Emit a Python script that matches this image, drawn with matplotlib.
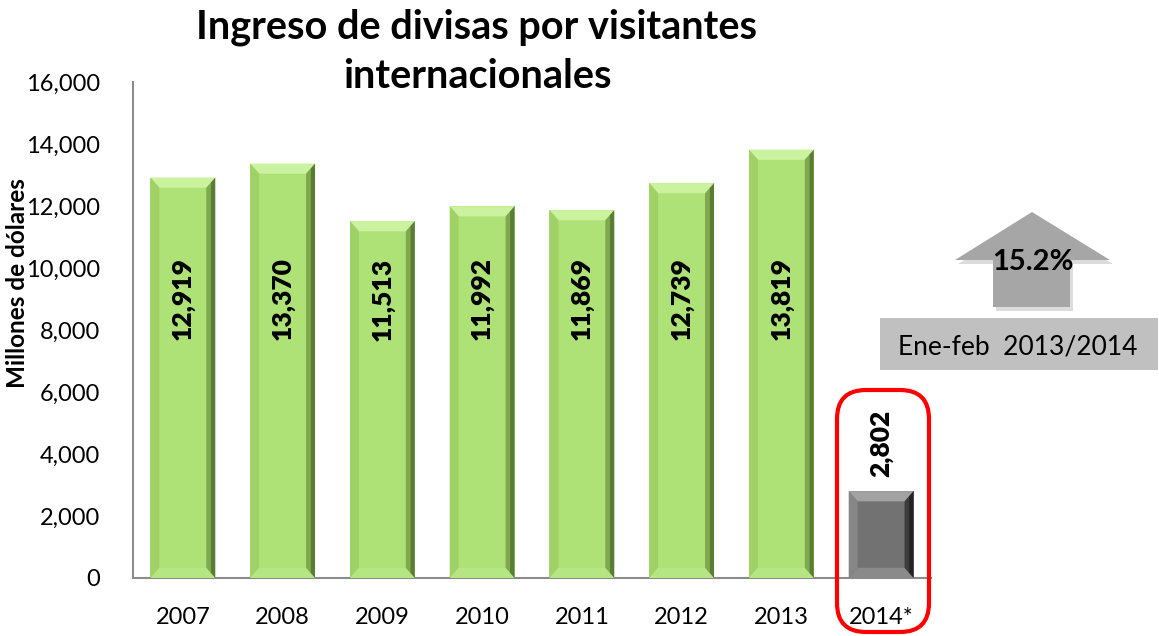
import matplotlib.pyplot as plt
from matplotlib.patches import Polygon, FancyBboxPatch
from matplotlib.ticker import FuncFormatter

plt.rcParams['font.family'] = ['Lato', 'DejaVu Sans']

years = ['2007', '2008', '2009', '2010', '2011', '2012', '2013', '2014*']
values = [12919, 13370, 11513, 11992, 11869, 12739, 13819, 2802]
labels = ['12,919', '13,370', '11,513', '11,992', '11,869', '12,739', '13,819', '2,802']
change = '15.2%'
period = 'Ene-feb  2013/2014'

W, H = 1159, 636
fig = plt.figure(figsize=(W / 100, H / 100), dpi=100)
ax = fig.add_axes([133 / W, 1 - 578 / H, 798 / W, 496 / H])

# face, top bevel, left bevel, right bevel (inner, outer), bottom bevel
green = ['#aee277', '#cbf29e', '#9fd166', '#7fa84f', '#5a7d35', '#b6e684']
grey = ['#727272', '#a2a2a2', '#868686', '#3c3c3c', '#232323', '#8a8a8a']

bars = ax.bar(range(len(years)), values, width=0.65, color=green[0], zorder=2)
bars[-1].set_facecolor(grey[0])

# bevel edges on every bar
dx, dy = 0.09, 330
for i, b in enumerate(bars):
    c = grey if i == len(bars) - 1 else green
    x0, x1 = b.get_x(), b.get_x() + b.get_width()
    y0, y1 = 0, b.get_height()
    xm, ym0, ym1 = x1 - dx / 2, y0 + dy / 2, y1 - dy / 2
    polys = [
        ([(x0, y1), (x1, y1), (x1 - dx, y1 - dy), (x0 + dx, y1 - dy)], c[1]),
        ([(x0, y1), (x0 + dx, y1 - dy), (x0 + dx, y0 + dy), (x0, y0)], c[2]),
        ([(x0, y0), (x1, y0), (x1 - dx, y0 + dy), (x0 + dx, y0 + dy)], c[5]),
        ([(xm, ym1), (xm, ym0), (x1 - dx, y0 + dy), (x1 - dx, y1 - dy)], c[3]),
        ([(x1, y1), (x1, y0), (xm, ym0), (xm, ym1)], c[4]),
    ]
    for pts, col in polys:
        ax.add_patch(Polygon(pts, closed=True, facecolor=col, edgecolor='none', zorder=3))

# value labels
for i, (v, lab) in enumerate(zip(values, labels)):
    y = 9000 if i < len(values) - 1 else v + 1550
    ax.text(i, y, lab, rotation=90, ha='center', va='center',
            fontsize=19, fontweight='heavy', color='black', zorder=4)

ax.set_xlim(-0.5, len(years) - 0.5)
ax.set_ylim(0, 16000)
ax.set_yticks(range(0, 16001, 2000))
ax.yaxis.set_major_formatter(FuncFormatter(lambda v, p: f'{int(v):,}'))
ax.set_xticks(range(len(years)))
ax.set_xticklabels(years)
ax.tick_params(axis='both', length=0, labelsize=17, colors='black')
ax.tick_params(axis='y', pad=24)
ax.tick_params(axis='x', pad=21)
for s in ['top', 'right']:
    ax.spines[s].set_visible(False)
for s in ['left', 'bottom']:
    ax.spines[s].set_color('#8c8c8c')
    ax.spines[s].set_linewidth(1.5)

fig.text(18 / W, 1 - 283 / H, 'Millones de dólares', rotation=90,
         ha='center', va='center', fontsize=17.5, fontweight='bold')

fig.text(477 / W, 1 - 27 / H, 'Ingreso de divisas por visitantes', ha='center',
         va='center', fontsize=28.5, fontweight='bold')
fig.text(477 / W, 1 - 77 / H, 'internacionales', ha='center',
         va='center', fontsize=28.5, fontweight='bold')

# red rounded frame around last bar
frame = FancyBboxPatch((837 / W, 1 - 632 / H), 92 / W, 242 / H,
                       boxstyle='round,pad=0,rounding_size=0.025',
                       transform=fig.transFigure, facecolor='none',
                       edgecolor='#ff0000', linewidth=3, zorder=5,
                       mutation_aspect=W / H)
fig.add_artist(frame)

# arrow with shadow
def up_arrow(ox, oy, col, z):
    pts = [(993, 307), (993, 260), (955, 260), (1032, 212), (1110, 260),
           (1070, 260), (1070, 307)]
    pts = [((x + ox) / W, 1 - (y + oy) / H) for x, y in pts]
    fig.add_artist(Polygon(pts, closed=True, transform=fig.transFigure,
                           facecolor=col, edgecolor='none', zorder=z))

up_arrow(3, 4, '#dcdcdc', 1)
up_arrow(0, 0, '#a6a6a6', 2)
fig.text(1033 / W, 1 - 262 / H, change, ha='center', va='center',
         fontsize=21, fontweight='bold', zorder=3)

box = FancyBboxPatch((880 / W, 1 - 370 / H), 278 / W, 52 / H, boxstyle='square,pad=0',
                     transform=fig.transFigure, facecolor='#c0c0c0', edgecolor='none')
fig.add_artist(box)
fig.text(1018 / W, 1 - 347 / H, period, ha='center', va='center', fontsize=19)

fig.savefig('out.png', dpi=100)
